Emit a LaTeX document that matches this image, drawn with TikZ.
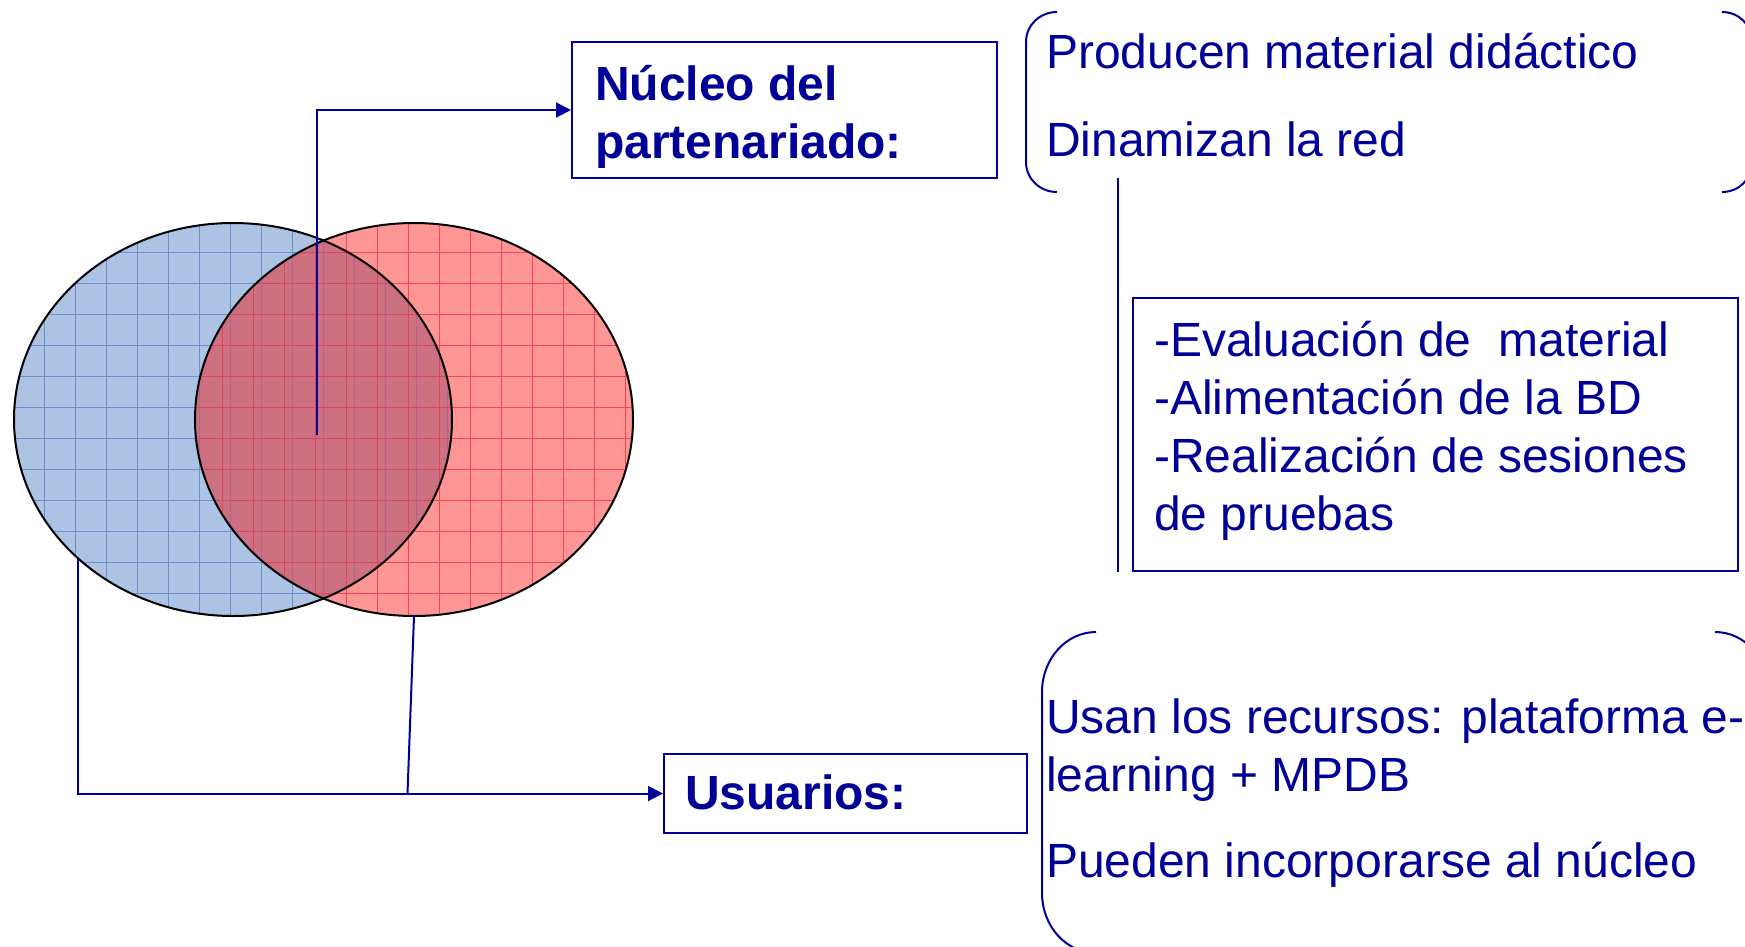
\documentclass[tikz,border=0pt]{standalone}
\usepackage{fontspec}
\setmainfont{Liberation Sans}
\usetikzlibrary{arrows.meta}
\definecolor{navy}{RGB}{0,0,153}
\definecolor{bluefill}{RGB}{172,195,228}
\definecolor{bluegrid}{RGB}{110,142,205}
\definecolor{redfill}{RGB}{255,150,150}
\definecolor{redgrid}{RGB}{245,70,80}
\definecolor{overfill}{RGB}{204,112,130}
\definecolor{overred}{RGB}{220,70,90}
\definecolor{overblue}{RGB}{175,100,140}
\tikzset{
  boxnode/.style={draw=navy, line width=2pt, inner sep=0pt},
  txt/.style={inner sep=0pt, anchor=base west, text=navy, font=\fontsize{48}{58}\selectfont},
  btxt/.style={txt, font=\fontsize{48}{58}\selectfont\bfseries},
  conn/.style={draw=navy, line width=2pt},
  arr/.style={conn, -{Triangle[length=15pt,width=15pt]}},
  brk/.style={draw=navy, line width=2pt},
  gridb/.style={draw=bluegrid, line width=0.8pt},
  gridr/.style={draw=redgrid, line width=0.8pt},
  ell/.style={draw=black, line width=2pt}
}
\begin{document}
\begin{tikzpicture}[x=1pt,y=-1pt]
\useasboundingbox (0,0) rectangle (1745,946);
% blue set
\begin{scope}
  \clip (233,419.5) ellipse [x radius=219pt, y radius=196.5pt];
  \fill[bluefill] (0,200) rectangle (460,640);
  \foreach \x in {13,44,...,460} \draw[gridb] (\x,200) -- (\x,640);
  \foreach \y in {221,252,...,640} \draw[gridb] (0,\y) -- (460,\y);
\end{scope}
% red set
\begin{scope}
  \clip (414,419.5) ellipse [x radius=219pt, y radius=196.5pt];
  \fill[redfill] (190,200) rectangle (640,640);
  \foreach \x in {191,222,...,640} \draw[gridr] (\x,200) -- (\x,640);
  \foreach \y in {221,252,...,640} \draw[gridr] (190,\y) -- (640,\y);
\end{scope}
% overlap
\begin{scope}
  \clip (233,419.5) ellipse [x radius=219pt, y radius=196.5pt];
  \clip (414,419.5) ellipse [x radius=219pt, y radius=196.5pt];
  \fill[overfill] (190,200) rectangle (460,640);
  \foreach \x in {13,44,...,460} \draw[overblue, line width=0.8pt] (\x,200) -- (\x,640);
  \foreach \x in {191,222,...,460} \draw[overred, line width=0.8pt] (\x,200) -- (\x,640);
  \foreach \y in {221,252,...,640} \draw[overred, line width=0.8pt] (190,\y) -- (460,\y);
\end{scope}
\draw[ell] (233,419.5) ellipse [x radius=219pt, y radius=196.5pt];
\draw[ell] (414,419.5) ellipse [x radius=219pt, y radius=196.5pt];

% boxes
\node[boxnode, minimum width=425pt, minimum height=136pt] (nucleo) at (784.5,110) {};
\node[btxt] (nt1) at (595,100) {Núcleo del};
\node[btxt] (nt2) at (595,158) {partenariado:};

\node[boxnode, minimum width=363pt, minimum height=79pt] (usuarios) at (845.5,793.5) {};
\node[btxt] (ut) at (685,809) {Usuarios:};

\node[boxnode, minimum width=605pt, minimum height=273pt] (evalbox) at (1435.5,434.5) {};
\node[txt] (e1) at (1154,356) {-Evaluación de\ \ material};
\node[txt] (e2) at (1154,414) {-Alimentación de la BD};
\node[txt] (e3) at (1154,472) {-Realización de sesiones};
\node[txt] (e4) at (1154,530) {de pruebas};

% top bracket group
\node[txt] (p1) at (1046,68) {Producen material didáctico};
\node[txt] (p2) at (1046,156) {Dinamizan la red};
\draw[brk] (1057,12) .. controls (1040,12) and (1026,25) .. (1026,42) -- (1026,162) .. controls (1026,179) and (1040,192) .. (1057,192);
\draw[brk] (1722,12) .. controls (1739,12) and (1752,25) .. (1752,42) -- (1752,162) .. controls (1752,179) and (1739,192) .. (1722,192);

% bottom bracket group
\node[txt] (u1) at (1046,733) {Usan los recursos: plataforma e-};
\node[txt] (u2) at (1046,791) {learning + MPDB};
\node[txt] (u3) at (1046,877) {Pueden incorporarse al núcleo};
\draw[brk] (1096,632) .. controls (1066,632) and (1042,659) .. (1042,692) -- (1042,893) .. controls (1042,926) and (1066,953) .. (1096,953);
\draw[brk] (1715,632) .. controls (1745,632) and (1769,659) .. (1769,692) -- (1769,893);

% connectors
\coordinate (c1) at (317,435);
\draw[arr] (c1) |- (nucleo.west);
\coordinate (c2) at (78,559);
\draw[arr] (c2) |- (usuarios.west);
\coordinate (c3) at (414,616);
\coordinate (c4) at (407.5,793.5);
\draw[conn] (c3) -- (c4);
\coordinate (v1) at (1118,178);
\coordinate (v2) at (1118,572);
\draw[conn] (v1) -- (v2);
\end{tikzpicture}
\end{document}
